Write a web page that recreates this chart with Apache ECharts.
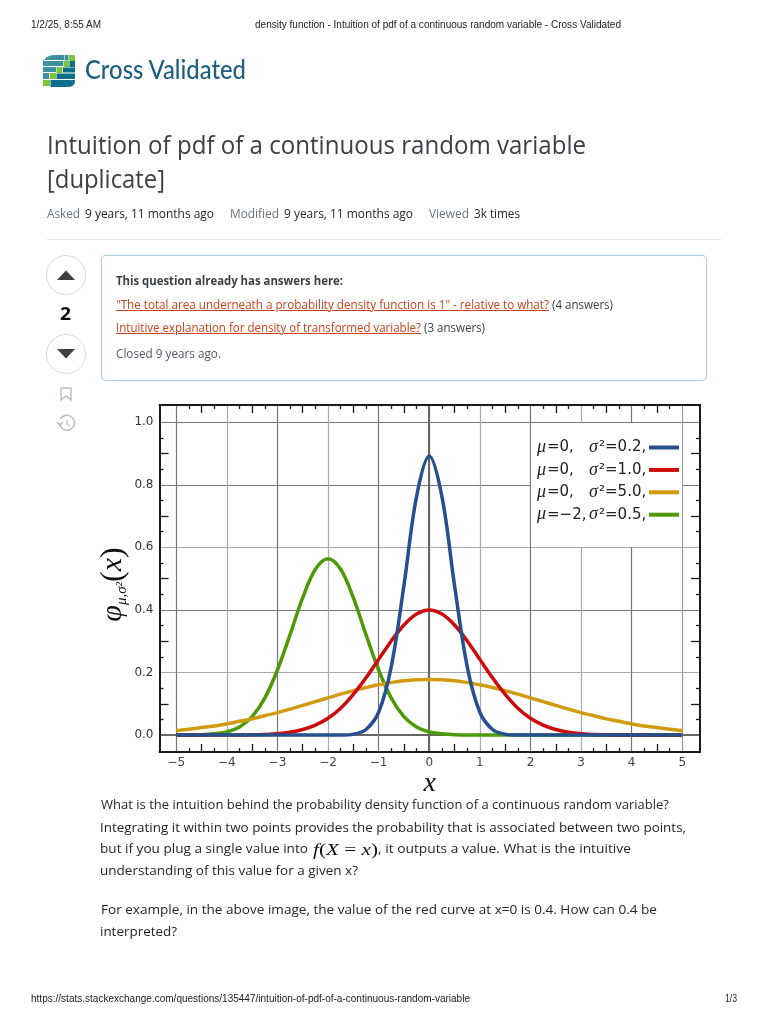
<!DOCTYPE html>
<html><head><meta charset="utf-8">
<script src="https://cdn.jsdelivr.net/npm/echarts@6/dist/echarts.min.js"></script>
<style>
html,body{margin:0;padding:0;background:#fff;width:768px;height:1024px;overflow:hidden}
#chart{position:absolute;left:0;top:0;width:768px;height:1024px}
.t{position:absolute;white-space:nowrap;font-family:"Open Sans",sans-serif;color:#232629;transform-origin:left center;line-height:1;z-index:2}
.p{font-family:"Liberation Sans",Arial,sans-serif;font-size:10px;color:#222}
.m{font-size:12.5px;color:#6a737c}.d{font-size:12.5px;color:#232629}
.b{font-size:13.5px}
.n{font-size:12.5px;color:#3b4045}
.l{color:#c9431c;text-decoration:underline}
svg.s{position:absolute;z-index:2;overflow:visible}
#box{position:absolute;left:101px;top:255px;width:604px;height:124px;border:1px solid #a6ceed;border-radius:5px;box-shadow:0 0 1px #a6ceed;z-index:1}
#hr{position:absolute;left:47px;top:239px;width:674px;height:1px;background:#e3e6e8;z-index:1}
</style></head><body>
<div id="chart"></div>
<div id="hr"></div><div id="box"></div>

<div class="t p" style="left:31px;top:20px" data-w="70">1/2/25, 8:55 AM</div>
<div class="t p" style="left:255px;top:20px" data-w="366">density function - Intuition of pdf of a continuous random variable - Cross Validated</div>
<div class="t p" style="left:31px;top:994px" data-w="439">https://stats.stackexchange.com/questions/135447/intuition-of-pdf-of-a-continuous-random-variable</div>
<div class="t p" style="left:725px;top:994px" data-w="12">1/3</div>

<svg class="s" style="left:43px;top:54px" width="33" height="34" viewBox="0 0 33 34">
<path d="M0 10 Q1 1 12 1 H21 V6 H0Z" fill="#3f8fa3"/><rect x="26" y="1" width="6" height="6" fill="#7cc63e"/><rect x="21.5" y="1" width="4" height="5.5" fill="#3f8fa3"/>
<rect x="0" y="7" width="20" height="5" fill="#3f8fa3"/><rect x="20.5" y="7" width="5.5" height="6" fill="#7cc63e"/><rect x="26.5" y="7" width="5.5" height="6" fill="#0f6f8a"/>
<rect x="0" y="13" width="13" height="5" fill="#3f8fa3"/><rect x="13.5" y="13" width="6" height="6" fill="#7cc63e"/><rect x="20" y="13.5" width="12" height="5" fill="#0f6f8a"/>
<rect x="0" y="19" width="6" height="6" fill="#3f8fa3"/><rect x="7" y="19" width="6" height="6" fill="#7cc63e"/><rect x="13.5" y="19.5" width="18.5" height="5.5" fill="#0f6f8a"/>
<rect x="0" y="26" width="7" height="6" fill="#7cc63e"/><path d="M7.5 26 H32 V27 Q32 33 24 33 H7.5Z" fill="#0f6f8a"/>
</svg>
<div class="t" style="left:85px;top:56px;font-family:Lato,sans-serif;font-size:26px;font-weight:500;color:#1f5f80" data-w="161">Cross Validated</div>

<div class="t" style="left:47px;top:132px;font-size:25px;color:#3b4045" data-w="539">Intuition of pdf of a continuous random variable</div>
<div class="t" style="left:47px;top:166px;font-size:25px;color:#3b4045" data-w="118">[duplicate]</div>

<div class="t m" style="left:47px;top:208px" data-w="33">Asked</div>
<div class="t d" style="left:85px;top:208px" data-w="129">9 years, 11 months ago</div>
<div class="t m" style="left:230px;top:208px" data-w="49">Modified</div>
<div class="t d" style="left:284px;top:208px" data-w="129">9 years, 11 months ago</div>
<div class="t m" style="left:429px;top:208px" data-w="40">Viewed</div>
<div class="t d" style="left:474px;top:208px" data-w="46">3k times</div>

<svg class="s" style="left:46px;top:255px" width="40" height="180" viewBox="0 0 40 180">
<circle cx="20" cy="20" r="19.5" fill="#fff" stroke="#d6d9dc"/><path d="M11 25 L20 15.500 L29 25Z" fill="#3b4045"/>
<circle cx="20" cy="99" r="19.5" fill="#fff" stroke="#d6d9dc"/><path d="M11 94 L20 103.500 L29 94Z" fill="#3b4045"/>
<path d="M15 133 H25 V145 L20 141 L15 145Z" fill="none" stroke="#babfc4" stroke-width="1.500"/>
<path d="M13.500 168 A7.500 7.500 0 1 0 14.500 164" fill="none" stroke="#babfc4" stroke-width="1.500"/><path d="M11 167 L14 171 L17 167" fill="none" stroke="#babfc4" stroke-width="1.300"/><path d="M21 165 V169 L24 171" fill="none" stroke="#babfc4" stroke-width="1.300"/>
</svg>
<div class="t" style="left:60px;top:305px;font-size:17px;font-weight:700;color:#0c0d0e" data-w="11">2</div>

<div class="t n" style="left:116px;top:275px;font-weight:700" data-w="227">This question already has answers here:</div>
<div class="t n l" style="left:116px;top:299px" data-w="433">"The total area underneath a probability density function is 1" - relative to what?</div>
<div class="t n" style="left:552px;top:299px" data-w="61">(4 answers)</div>
<div class="t n l" style="left:116px;top:322px" data-w="305">Intuitive explanation for density of transformed variable?</div>
<div class="t n" style="left:424px;top:322px" data-w="61">(3 answers)</div>
<div class="t n" style="left:116px;top:348px;color:#525960" data-w="105">Closed 9 years ago.</div>

<div class="t b" style="left:101px;top:798px" data-w="568">What is the intuition behind the probability density function of a continuous random variable?</div>
<div class="t b" style="left:100px;top:821px" data-w="586">Integrating it within two points provides the probability that is associated between two points,</div>
<div class="t b" style="left:100px;top:842px" data-w="208">but if you plug a single value into</div>
<div class="t" style="left:313px;top:841px;font-family:'Liberation Serif',serif;font-size:17px;color:#111" data-w="65"><i>f</i>(<i>X</i> = <i>x</i>)</div>
<div class="t b" style="left:378px;top:842px" data-w="253">, it outputs a value. What is the intuitive</div>
<div class="t b" style="left:100px;top:864px" data-w="258">understanding of this value for a given x?</div>
<div class="t b" style="left:101px;top:903px" data-w="556">For example, in the above image, the value of the red curve at x=0 is 0.4. How can 0.4 be</div>
<div class="t b" style="left:100px;top:925px" data-w="77">interpreted?</div>

<script>
// Chart data
const xValues = [-5,-4.75,-4.5,-4.25,-4,-3.75,-3.5,-3.25,-3,-2.75,-2.5,-2.25,-2,-1.75,-1.5,-1.25,-1,-0.75,-0.5,-0.25,0,0.25,0.5,0.75,1,1.25,1.5,1.75,2,2.25,2.5,2.75,3,3.25,3.5,3.75,4,4.25,4.5,4.75,5];
const blueValues = [0,0,0,0,0,0,0,0,0,0,0,0,0,0,0.003,0.018,0.073,0.219,0.478,0.763,0.892,0.763,0.478,0.219,0.073,0.018,0.003,0,0,0,0,0,0,0,0,0,0,0,0,0,0];
const redValues = [0,0,0,0,0,0,0.001,0.002,0.004,0.009,0.018,0.032,0.054,0.086,0.13,0.183,0.242,0.301,0.352,0.387,0.4,0.387,0.352,0.301,0.242,0.183,0.13,0.086,0.054,0.032,0.018,0.009,0.004,0.002,0.001,0,0,0,0,0,0];
const orangeValues = [0.015,0.019,0.024,0.029,0.036,0.044,0.052,0.062,0.072,0.083,0.095,0.107,0.119,0.131,0.142,0.152,0.161,0.168,0.174,0.177,0.178,0.177,0.174,0.168,0.161,0.152,0.142,0.131,0.119,0.107,0.095,0.083,0.072,0.062,0.052,0.044,0.036,0.029,0.024,0.019,0.015];
const greenValues = [0,0,0.001,0.004,0.01,0.026,0.059,0.118,0.208,0.321,0.439,0.53,0.564,0.53,0.439,0.321,0.208,0.118,0.059,0.026,0.01,0.004,0.001,0,0,0,0,0,0,0,0,0,0,0,0,0,0,0,0,0,0];
const seriesNames = ['μ=0, σ²=0.2,','μ=0, σ²=1.0,','μ=0, σ²=5.0,','μ=−2, σ²=0.5,'];
const xTickLabels = [-5,-4,-3,-2,-1,0,1,2,3,4,5];
const xLongTicks = [-4.5,-3.5,-2.5,-1.5,-0.5,0.5,1.5,2.5,3.5,4.5];
const xShortTicks = [-4.75,-4.25,-3.75,-3.25,-2.75,-2.25,-1.75,-1.25,-0.75,-0.25,0.25,0.75,1.25,1.75,2.25,2.75,3.25,3.75,4.25,4.75];
const yTickLabels = [0,0.2,0.4,0.6,0.8,1];
const yLongTicks = [0.1,0.3,0.5,0.7,0.9];
const yShortTicks = [0.05,0.15,0.25,0.35,0.45,0.55,0.65,0.75,0.85,0.95];

const rect = {left:159.5,top:405,width:540.5,height:347};
const xr = {min:-5.33,max:5.35}, yr = {min:-0.054,max:1.055};
const ink = '#1a1a1a';
const xGridColors = ['#777','#aaa','#777','#aaa','#777','#666','#aaa','#777','#aaa','#777','#999'];
const yGridColors = ['#666','#aaa','#777','#aaa','#777','#777'];
const font = 'DejaVu Sans';

function blank(idx, position, range, extra){
  return Object.assign({type:'value',gridIndex:idx,position,min:range.min,max:range.max,
    axisLine:{show:false,onZero:false},axisTick:{show:false},axisLabel:{show:false},splitLine:{show:false},minorTick:{show:false}},extra||{});
}
function ticks(values,len){ return {axisTick:{show:true,inside:true,length:len,customValues:values,lineStyle:{color:ink,width:1.3}}}; }
const frame = {axisLine:{show:true,onZero:false,lineStyle:{color:ink,width:2}}};

const xAxes = [
  blank(0,'bottom',xr,Object.assign({},frame,{
    axisTick:{show:false,customValues:xTickLabels},
    axisLabel:{show:true,customValues:xTickLabels,margin:5,color:'#444',fontFamily:font,fontSize:12,
      formatter:v=>(v<0?'−'+(-v):''+v)},
    splitLine:{show:true,lineStyle:{color:xGridColors,width:1.2}},
    name:'x',nameLocation:'middle',nameGap:16,
    nameTextStyle:{fontFamily:'Liberation Serif',fontStyle:'italic',fontSize:28,color:'#111'}})),
  blank(0,'top',xr,frame),
  blank(1,'bottom',xr,ticks(xLongTicks,8)), blank(1,'top',xr,ticks(xLongTicks,8)),
  blank(2,'bottom',xr,ticks(xShortTicks,4)), blank(2,'top',xr,ticks(xShortTicks,4)),
  blank(3,'bottom',xr,{axisTick:{show:false,customValues:[0]},splitLine:{show:true,lineStyle:{color:'#666',width:2}}})
];
const yAxes = [
  blank(0,'left',yr,Object.assign({},frame,{
    axisTick:{show:false,customValues:yTickLabels},
    axisLabel:{show:true,customValues:yTickLabels,margin:6,color:'#333',fontFamily:font,fontSize:12,padding:[3,0,0,0],formatter:v=>v.toFixed(1)},
    splitLine:{show:true,lineStyle:{color:yGridColors,width:1.2}},
    name:'{p|φ}{s|μ,σ²}{q|(}{x|x}{q|)}',nameLocation:'middle',nameGap:30,nameRotate:90,nameMoveOverlap:false,
    nameTextStyle:{padding:[0,12,0,0],rich:{
      p:{fontFamily:'Liberation Serif',fontStyle:'italic',fontSize:30,color:'#111'},
      s:{fontFamily:'Liberation Serif',fontStyle:'italic',fontSize:15,color:'#111',verticalAlign:'bottom',padding:[8,0,0,0]},
      q:{fontFamily:'Liberation Serif',fontSize:32,color:'#111'},
      x:{fontFamily:'Liberation Serif',fontStyle:'italic',fontSize:30,color:'#111'}}}})),
  blank(0,'right',yr,frame),
  blank(1,'left',yr,ticks(yLongTicks,9)), blank(1,'right',yr,ticks(yLongTicks,9)),
  blank(2,'left',yr,ticks(yShortTicks,4)), blank(2,'right',yr,ticks(yShortTicks,4)),
  blank(3,'left',yr,{axisTick:{show:false,customValues:[0]},splitLine:{show:true,lineStyle:{color:'#666',width:2}}})
];
const pair = ys => xValues.map((x,i)=>[x,ys[i]]);
const line = (name,ys,color)=>({type:'line',name,data:pair(ys),xAxisIndex:0,yAxisIndex:0,symbol:'none',smooth:0.35,
  lineStyle:{color,width:3.5},itemStyle:{color},z:3,clip:false,animation:false});

const chart = echarts.init(document.getElementById('chart'));
chart.setOption({
  animation:false,backgroundColor:'transparent',
  grid:[0,1,2,3].map(()=>Object.assign({show:false},rect)),
  xAxis:xAxes,yAxis:yAxes,
  graphic:{elements:[{type:'rect',z:1,shape:{x:531,y:423,width:151,height:124},style:{fill:'#fff'}}]},
  legend:{data:seriesNames,left:537,top:438.5,padding:0,orient:'vertical',align:'right',itemWidth:30,itemHeight:4,itemGap:4.4,icon:'rect',
    inactiveColor:'#000',selectedMode:false,
    formatter:n=>{const [a,b]=n.split(', ');return '{i|μ}{a|'+a.slice(1)+',}{i|σ}{b|'+b.slice(1)+'}';},
    textStyle:{padding:[0,0,0,0],rich:{
      i:{fontFamily:'Liberation Serif',fontStyle:'italic',fontSize:18,color:'#222',width:10,height:17,align:'left'},
      a:{fontFamily:font,fontSize:15,color:'#222',width:42,height:17,align:'left'},
      b:{fontFamily:font,fontSize:15,color:'#222',width:45,height:17,align:'left'}}}},
  series:[line(seriesNames[3],greenValues,'#4e9a06'),line(seriesNames[2],orangeValues,'#d29a0e'),
          line(seriesNames[1],redValues,'#cc0a0a'),line(seriesNames[0],blueValues,'#24508f')]
});

document.querySelectorAll('[data-w]').forEach(e=>{
  const w=+e.dataset.w, r=e.getBoundingClientRect().width;
  e.style.transform='scaleX('+(w/r).toFixed(4)+')';
});
</script>
</body></html>
